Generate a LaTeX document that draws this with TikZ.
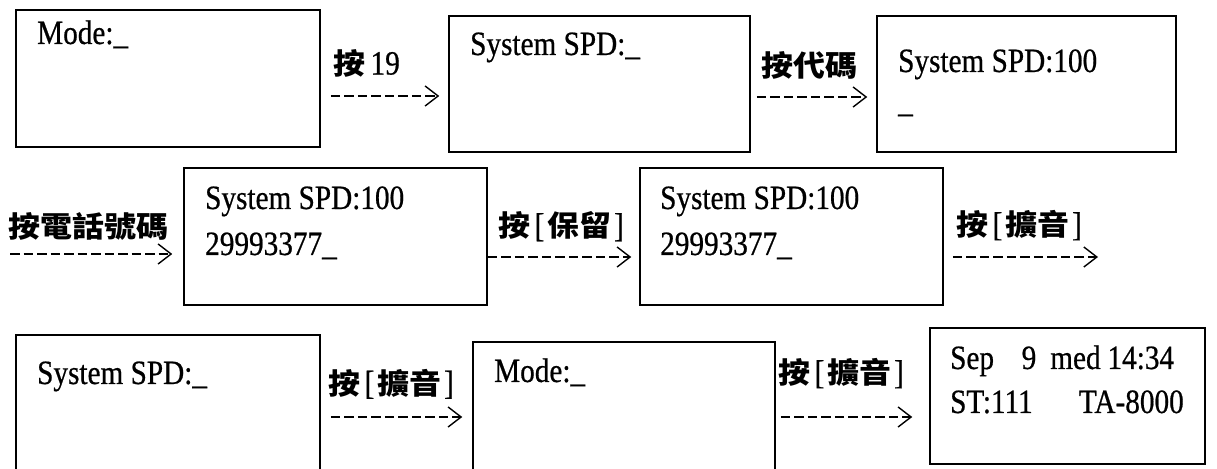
\documentclass[tikz,border=0pt]{standalone}
\usepackage{fontspec}
\setmainfont{Liberation Serif}
\newfontfamily\lcdfont[FakeStretch=0.86,FakeBold=0.6]{Liberation Serif}
\newfontfamily\cjkfam[FakeStretch=1.1]{Noto Sans CJK TC}
\usetikzlibrary{arrows.meta}
\newlength\cw
\setlength\cw{14.3bp}
\newcommand\cjktxt[1]{{\cjkfam\bfseries\fontsize{29bp}{34bp}\selectfont #1}}
\newcommand\lbr{\hspace{4bp}[\hspace{3bp}}
\newcommand\rbr{\hspace{3bp}]}
\begin{document}
\begin{tikzpicture}[x=1bp,y=-1bp,
  screen/.style={draw, line width=1.5bp, inner sep=0pt},
  lcd/.style={anchor=base west, inner sep=0pt, font=\lcdfont\fontsize{34bp}{40bp}\selectfont},
  keylab/.style={anchor=west, inner sep=0pt, font=\lcdfont\fontsize{34bp}{40bp}\selectfont},
  arr/.style={line width=1.3bp, dash pattern=on 9.5bp off 4bp,
    -{Straight Barb[length=13bp,width=20bp,line width=1.4bp]}},
]
\useasboundingbox (0,0) rectangle (1217,469);
\fill[white] (0,0) rectangle (1217,469);
\clip (0,0) rectangle (1217,469);

% screens
\node[screen, minimum width=304bp, minimum height=137bp] (A) at (168,78.5) {};
\node[screen, minimum width=301bp, minimum height=136bp] (B) at (599.5,84) {};
\node[screen, minimum width=299bp, minimum height=136bp] (C) at (1026.5,84) {};
\node[screen, minimum width=303bp, minimum height=137bp] (D) at (335.5,236.5) {};
\node[screen, minimum width=303bp, minimum height=137bp] (E) at (791.5,236.5) {};
\node[screen, minimum width=304bp, minimum height=185bp] (F) at (168,427.5) {};
\node[screen, minimum width=302bp, minimum height=178bp] (G) at (624,431) {};
\node[screen, minimum width=275bp, minimum height=136bp] (H) at (1067.5,396) {};

% screen texts
\node[lcd] (tA) at (37,44) {Mode:\_};
\node[lcd] (tB) at (470,55) {System SPD:\_};
\node[lcd] (tC1) at (898,72) {System SPD:100};
\node[lcd] (tC2) at (898,112) {\_};
\node[lcd] (tD1) at (205,209) {System SPD:100};
\node[lcd] (tD2) at (205,255) {29993377\_};
\node[lcd] (tE1) at (660,209) {System SPD:100};
\node[lcd] (tE2) at (660,255) {29993377\_};
\node[lcd] (tF) at (37,384) {System SPD:\_};
\node[lcd] (tG) at (494,382) {Mode:\_};
\node[lcd] (tH1) at (950,369) {\makebox[5\cw][l]{Sep}\makebox[2\cw][l]{9}\makebox[4\cw][l]{med}14:34};
\node[lcd] (tH2) at (950,413) {\makebox[9\cw][l]{ST:111}TA-8000};

% key labels
\node[keylab] (l1) at (333.5,63.5) {\cjktxt{按}\hspace{5bp}19};
\node[keylab] (l2) at (761.5,65.5) {\cjktxt{按代碼}};
\node[keylab] (l3) at (8.5,226.5) {\cjktxt{按電話號碼}};
\node[keylab] (l4) at (498.5,226.5) {\cjktxt{按}\lbr\cjktxt{保留}\rbr};
\node[keylab] (l5) at (956.5,225.5) {\cjktxt{按}\lbr\cjktxt{擴音}\rbr};
\node[keylab] (l6) at (328.5,384) {\cjktxt{按}\lbr\cjktxt{擴音}\rbr};
\node[keylab] (l7) at (778.5,373.5) {\cjktxt{按}\lbr\cjktxt{擴音}\rbr};

% connectors
\coordinate (r1) at (0,96);
\coordinate (r2) at (0,97);
\coordinate (s3) at (10,254);
\coordinate (r4) at (0,257);
\coordinate (e5) at (1098,257);
\coordinate (r6) at (0,417);
\draw[arr, shorten <=10bp, shorten >=9bp] (A.east |- r1) -- (B.west |- r1);
\draw[arr, shorten <=6bp, shorten >=9bp] (B.east |- r2) -- (C.west |- r2);
\draw[arr, shorten >=11bp] (s3) -- (D.west |- s3);
\draw[arr, shorten >=8bp] (D.east |- r4) -- (E.west |- r4);
\draw[arr, shorten <=9bp] (E.east |- r4) -- (e5);
\draw[arr, shorten <=10bp, shorten >=10bp] (F.east |- r6) -- (G.west |- r6);
\draw[arr, shorten <=5bp, shorten >=17bp] (G.east |- r6) -- (H.west |- r6);
\end{tikzpicture}
\end{document}
